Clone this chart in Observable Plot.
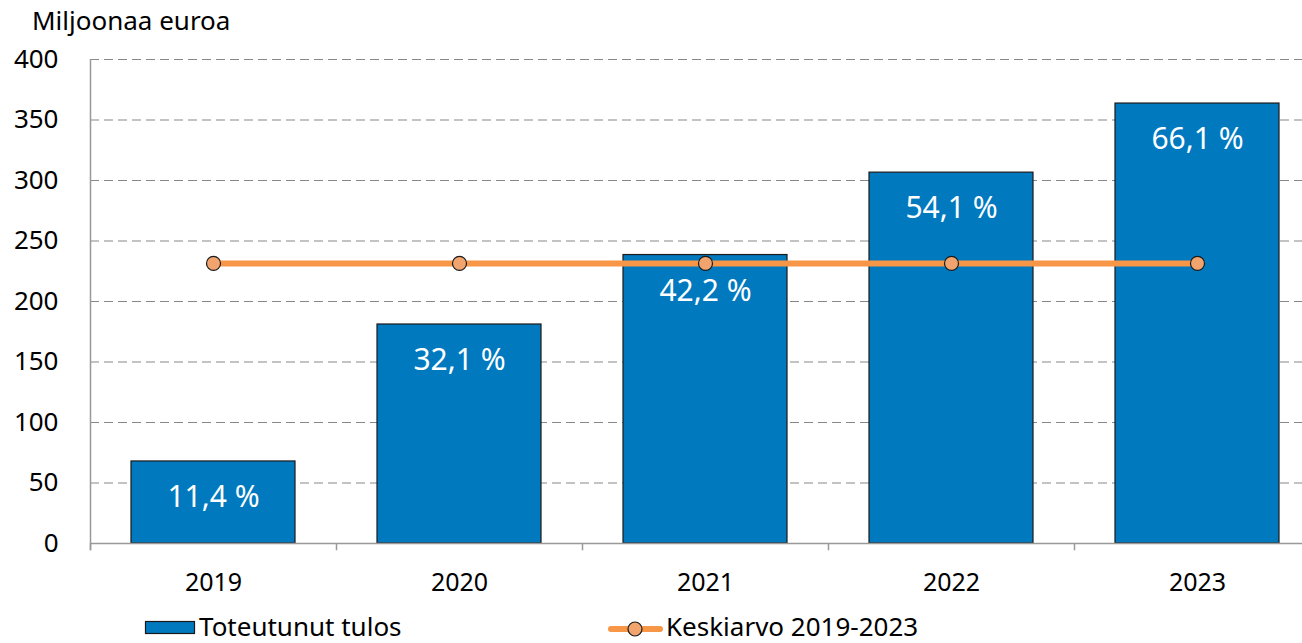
<!DOCTYPE html>
<html><head><meta charset="utf-8">
<script src="https://cdn.jsdelivr.net/npm/d3@7"></script>
<script src="https://cdn.jsdelivr.net/npm/@observablehq/plot@0.6"></script>
<style>
html,body{margin:0;padding:0;overflow:hidden;background:#fff;}
#wrap{position:relative;width:1302px;height:643px;font-family:"Noto Sans",sans-serif;color:#000;}
#chart{position:absolute;left:0;top:0;}
#over{position:absolute;left:0;top:0;}
</style></head>
<body><div id="wrap">
<div id="chart"></div>
<svg id="over" width="1302" height="643" font-family="'Noto Sans',sans-serif">
  <text x="32" y="30" font-size="26" fill="#000">Miljoonaa euroa</text>
  <rect x="145.5" y="621.5" width="49" height="12" fill="#0079BF" stroke="#1a1a1a" stroke-width="1.2"/>
  <text x="199" y="636" font-size="26" fill="#000">Toteutunut tulos</text>
  <line x1="611" y1="629" x2="660" y2="629" stroke="#F79646" stroke-width="6" stroke-linecap="round"/>
  <circle cx="635" cy="629" r="7" fill="#F2A46E" stroke="#1a1a1a" stroke-width="1.2"/>
  <text x="666" y="636" font-size="26" fill="#000">Keskiarvo 2019-2023</text>
</svg>
</div>
<script>
const years = ["2019","2020","2021","2022","2023"];
const values = [67.8, 181, 238.4, 306.5, 363.6];
const pctLabels = ["11,4 %","32,1 %","42,2 %","54,1 %","66,1 %"];
const average = 231.5;
const yTicks = [0,50,100,150,200,250,300,350,400];

const data = years.map((y,i)=>({year:y, value:values[i], label:pctLabels[i], avg:average}));
const gridTicks = yTicks.filter(t=>t>0);

const chart = Plot.plot({
  width:1302, height:643,
  marginLeft:90, marginRight:0, marginTop:59, marginBottom:100,
  style:{fontFamily:"'Noto Sans',sans-serif", background:"transparent"},
  x:{domain:years, range:[90,1320], paddingInner:1/3, paddingOuter:1/6, axis:null, label:null},
  y:{domain:[0,400], axis:null, label:null},
  marks:[
    Plot.ruleY(gridTicks,{stroke:"#888", strokeWidth:1.2, strokeDasharray:"9,5"}),
    Plot.barY(data,{x:"year", y:"value", fill:"#0079BF", stroke:"#1a1a1a", strokeWidth:1.2}),
    Plot.text(data,{x:"year", y:"value", text:"label", dy:36, fill:"white", fontSize:30}),
    Plot.ruleY([0],{stroke:"#999", strokeWidth:1.5}),
    Plot.ruleX(years,{x:d=>d, dx:-123, y1:-6, y2:0, stroke:"#999", strokeWidth:1.5}),
    Plot.ruleX([years[0]],{x:d=>d, dx:-123, y1:-6, y2:400, stroke:"#999", strokeWidth:1.5}),
    Plot.line(data,{x:"year", y:"avg", stroke:"#F79646", strokeWidth:6}),
    Plot.dot(data,{x:"year", y:"avg", r:7, fill:"#F2A46E", stroke:"#1a1a1a", strokeWidth:1.2}),
    Plot.axisY(yTicks,{tickSize:0, tickPadding:32, fontSize:26, fill:"#000", label:null}),
    Plot.axisX(years,{tickSize:0, tickPadding:30, fontSize:25, fill:"#000", label:null})
  ]
});
document.getElementById("chart").appendChild(chart);
</script>
</body></html>
